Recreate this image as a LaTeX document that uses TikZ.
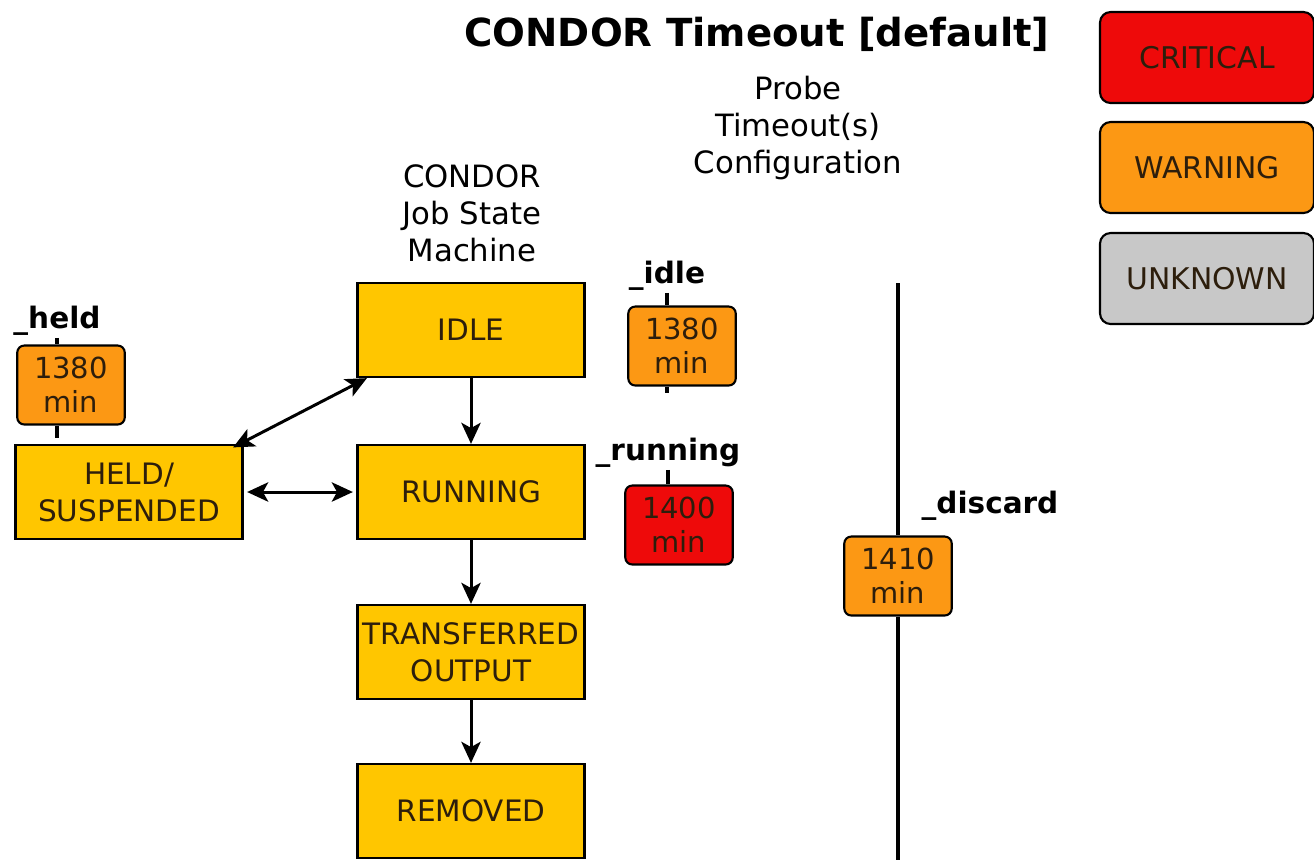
\documentclass[tikz,border=0pt]{standalone}
\usepackage{fontspec}
\setmainfont{DejaVu Sans}
\usetikzlibrary{arrows.meta}

\definecolor{stategold}{RGB}{255,198,0}
\definecolor{warnorange}{RGB}{252,152,20}
\definecolor{critred}{RGB}{238,10,10}
\definecolor{unkgray}{RGB}{200,200,200}
\definecolor{inkdark}{RGB}{45,30,12}

\tikzset{
  state/.style={draw, line width=1.3pt, fill=stategold, text=inkdark, align=center,
    minimum width=4.54cm, minimum height=1.88cm, inner sep=0.5pt,
    font=\fontsize{16.8}{21}\selectfont},
  timer/.style={draw, line width=1.2pt, rounded corners=4pt, text=inkdark, align=center,
    minimum width=2.15cm, minimum height=1.58cm, inner sep=1pt,
    font=\fontsize{16.5}{19.5}\selectfont},
  legend/.style={draw, line width=1.2pt, rounded corners=6pt, text=inkdark,
    minimum width=4.28cm, minimum height=1.82cm,
    font=\fontsize{17}{21}\selectfont},
  tag/.style={inner sep=1pt, font=\bfseries\fontsize{16.8}{19}\selectfont},
  caption/.style={align=center, font=\fontsize{17.5}{21}\selectfont},
  flow/.style={line width=1.7pt, >={Stealth[length=12pt,width=11pt,inset=3pt]}}
}

\begin{document}
\begin{tikzpicture}[x=0.02cm,y=-0.02cm]
  \useasboundingbox (0,0) rectangle (1314,860);

  \node[font=\bfseries\fontsize{22}{26}\selectfont] (title) at (757,34) {CONDOR Timeout [default]};
  \node[caption] (probecap) at (798,128) {Probe\\Timeout(s)\\Configuration};
  \node[caption] (jobcap) at (472,213) {CONDOR\\Job State\\Machine};

  % legend
  \node[legend, fill=critred] (crit) at (1207,57.5) {CRITICAL};
  \node[legend, fill=warnorange] (warn) at (1207,167.5) {WARNING};
  \node[legend, fill=unkgray] (unk) at (1207,278.5) {UNKNOWN};

  % job states
  \node[state] (idle) at (471,330) {IDLE};
  \node[state] (running) at (471,492) {RUNNING};
  \node[state] (transferred) at (471,652) {TRANSFERRED\\OUTPUT};
  \node[state] (removed) at (471,811) {REMOVED};
  \node[state] (held) at (129,492) {HELD/\\SUSPENDED};

  \draw[flow,->] (idle) -- (running);
  \draw[flow,->] (running) -- (transferred);
  \draw[flow,->] (transferred) -- (removed);
  \draw[flow,<->] ([xshift=2pt]held.east) -- ([xshift=-2pt]running.west);
  \draw[flow,<->] ([shift={(-6pt,-2pt)}]held.north east) -- ([shift={(6pt,0pt)}]idle.south west);

  % timeouts
  \node[tag] (heldtag) at (57,321) {\_held};
  \node[timer, fill=warnorange] (heldbox) at (71,385) {1380\\min};
  \draw[line width=1.8pt] (heldtag.south) -- (heldtag.south |- heldbox.north);
  \draw[line width=1.8pt] (heldtag.south |- heldbox.south) -- ++(0,12);

  \node[tag] (idletag) at (667,276) {\_idle};
  \node[timer, fill=warnorange] (idlebox) at (682,346) {1380\\min};
  \draw[line width=1.8pt] (idletag.south) -- (idletag.south |- idlebox.north);
  \draw[line width=1.8pt] (idletag.south |- idlebox.south) -- ++(0,6);

  \node[tag] (runtag) at (668,453) {\_running};
  \node[timer, fill=critred] (runbox) at (679,525) {1400\\min};
  \draw[line width=1.8pt] (runtag.south) -- (runtag.south |- runbox.north);

  \coordinate (axtop) at (898,283);
  \coordinate (axbot) at (898,860);
  \node[tag] (disctag) at (990,506) {\_discard};
  \node[timer, fill=warnorange] (discbox) at (898,576) {1410\\min};
  \draw[line width=2.4pt] (axtop) -- (discbox.north);
  \draw[line width=2.4pt] (discbox.south) -- (axbot);
\end{tikzpicture}
\end{document}
